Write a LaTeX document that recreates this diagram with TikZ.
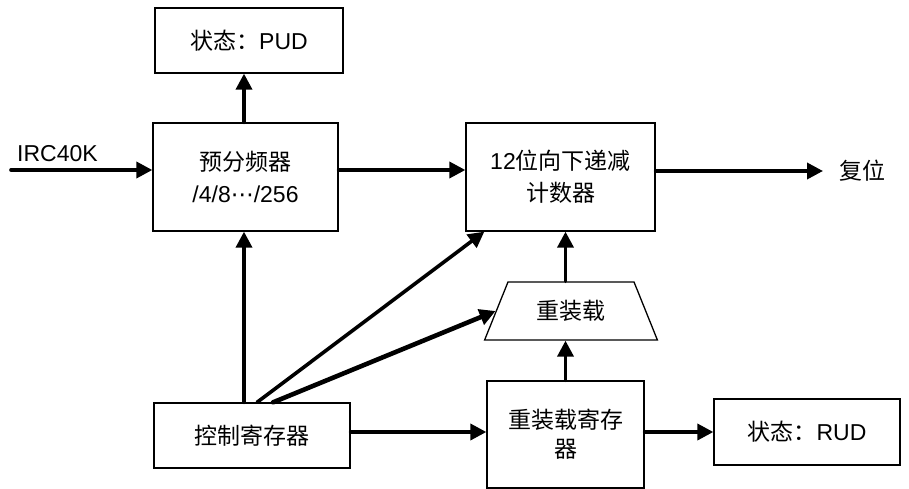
\documentclass[tikz,border=0pt]{standalone}
\usepackage{fontspec}
\setmainfont{Liberation Sans}
\newfontfamily\cjk{Noto Sans CJK SC}
\newfontfamily\symf{DejaVu Sans}
\usepackage{tikz}
\usetikzlibrary{arrows.meta,positioning,calc,shapes.geometric}
\tikzset{
  blk/.style={draw,line width=1.3pt,align=center,inner sep=0pt},
  arr/.style={-{Triangle[length=16pt,width=16pt]},line width=3.6pt,line cap=round},
  txt/.style={font=\fontsize{23}{32}\selectfont},
}

\begin{document}
\begin{tikzpicture}[x=1pt,y=-1pt,every node/.style={txt}]
        \useasboundingbox (0,0) rectangle (909,489);
        % kuang
        \node[blk,minimum width=188pt,minimum height=65pt] (pud) at (249,40.5) {{\cjk 状态：}PUD};
        \node[blk,minimum width=185pt,minimum height=108pt] (pre) at (245.5,177) {{\cjk 预分频器}\\/4/8{\symf ⋯}/256};
        \node[blk,minimum width=189pt,minimum height=108pt] (cnt) at (560.5,177) {12{\cjk 位向下递减}\\{\cjk 计数器}};
        \node[blk,trapezium,trapezium left angle=59,trapezium right angle=59,trapezium stretches=true,
              minimum width=174pt,minimum height=58pt] (trap) at (571,311) {{\cjk 重装载}};
        \node[blk,minimum width=196pt,minimum height=65pt] (ctrl) at (252,435.5) {{\cjk 控制寄存器}};
        \node[blk,minimum width=157pt,minimum height=107pt,font=\fontsize{23}{29}\selectfont] (rreg) at (565.5,434.5) {{\cjk 重装载寄存}\\{\cjk 器}};
        \node[blk,minimum width=186pt,minimum height=66pt] (rud) at (807,432) {{\cjk 状态：}RUD};
        % wenzi
        \node[anchor=base west,inner sep=0pt] (irclbl) at (17,162) {IRC40K};
        \node[anchor=west,inner xsep=16pt,inner ysep=0pt] (reset) at (823,171) {{\cjk 复位}};
        \coordinate (irc) at (11,170);
        % jiantou
        \draw[arr] (irc) -- (irc -| pre.west);
        \draw[arr] ([xshift=-1.5pt]pre.north) -- ([xshift=-1.5pt]pre.north |- pud.south);
        \draw[arr] ([yshift=7pt]pre.east) -- ([yshift=7pt]pre.east -| cnt.west);
        \draw[arr] (reset.west -| cnt.east) -- (reset.west);
        \draw[arr] ([xshift=-8pt]ctrl.north) -- ([xshift=-8pt]ctrl.north |- pre.south);
        \draw[arr] ([xshift=5pt]ctrl.north) -- ([xshift=19pt]cnt.south west);
        \draw[arr,line width=4.6pt] ([xshift=21pt]ctrl.north) -- (trap.west);
        \draw[arr] ([yshift=3.5pt]ctrl.east) -- ([yshift=3.5pt]ctrl.east -| rreg.west);
        \draw[arr] (rreg.east |- rud.west) -- (rud.west);
        \draw[arr] (rreg.north) -- (rreg.north |- trap.south);
        \draw[arr] (rreg.north |- trap.north) -- (rreg.north |- cnt.south);
      \end{tikzpicture}
\end{document}
